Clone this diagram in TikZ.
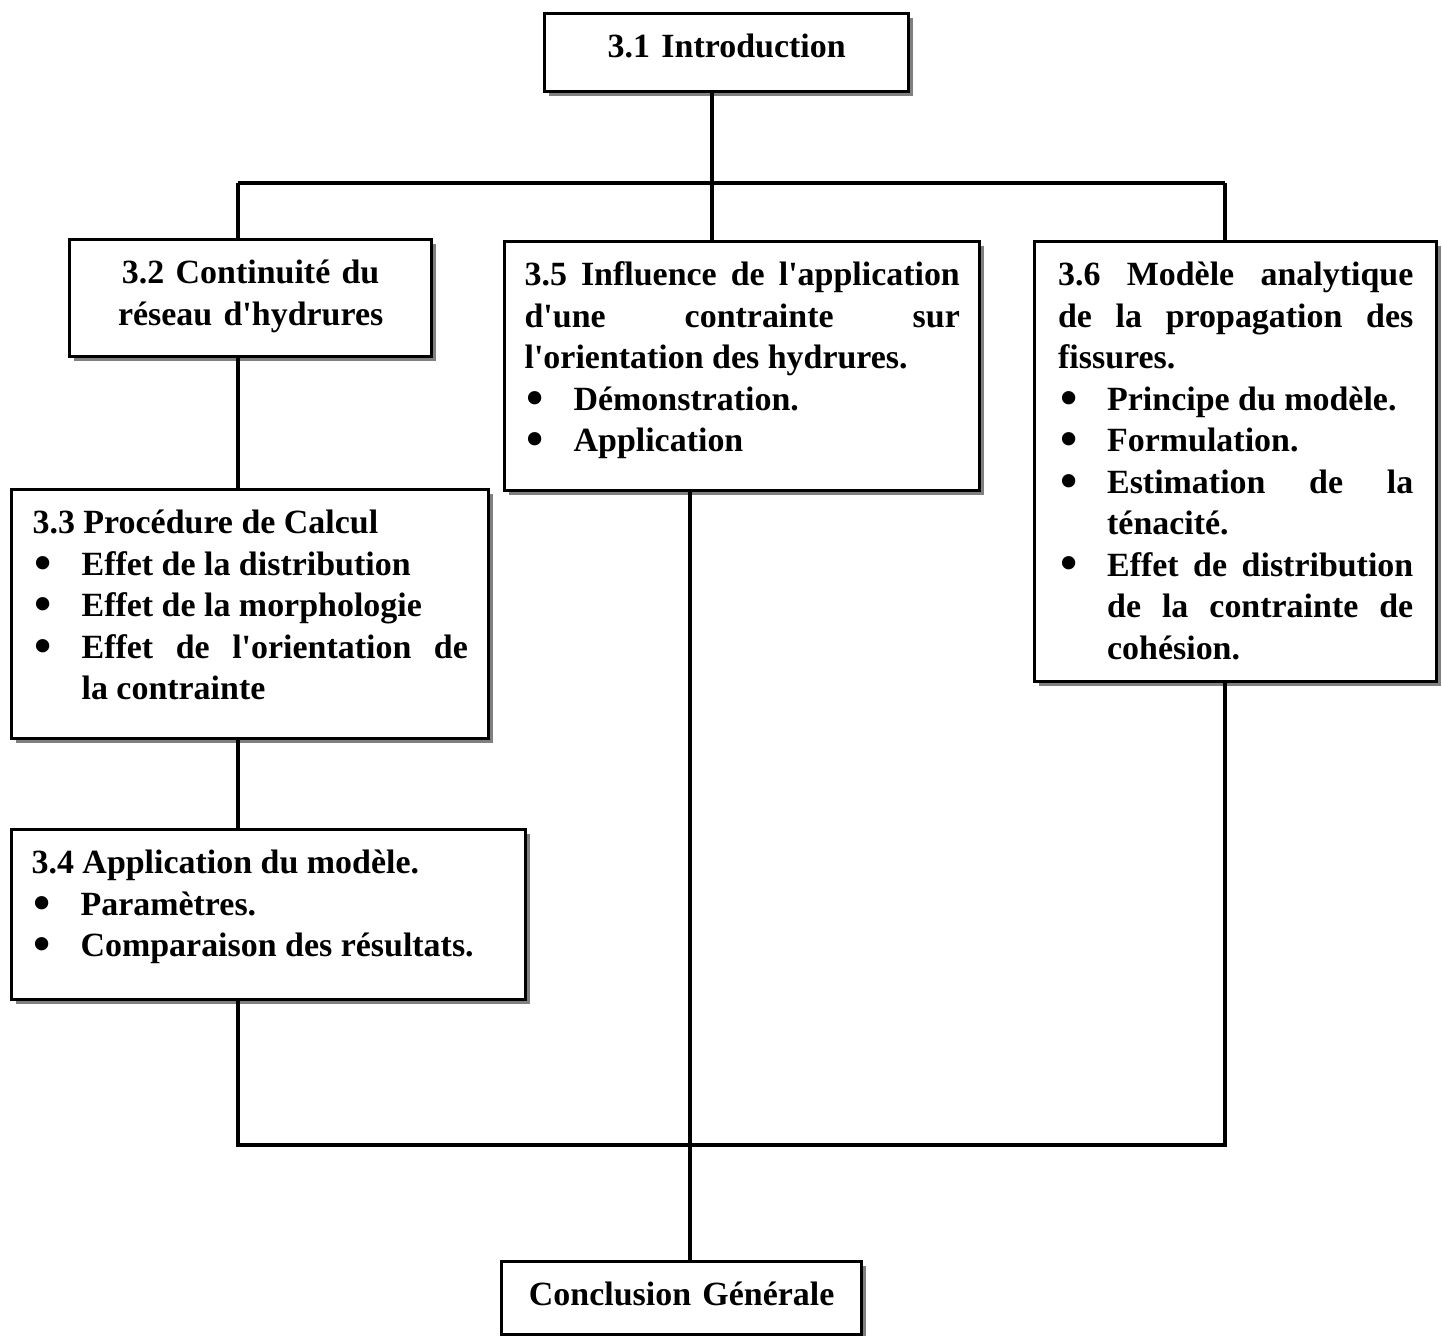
\documentclass[tikz,border=0pt]{standalone}
\usepackage{fontspec}
\usepackage{tikz}
\usetikzlibrary{shadows}

\newfontfamily\boxfont{Liberation Serif}
\newcommand{\boxfnt}{\boxfont\bfseries\fontsize{9.65pt}{11.8pt}\selectfont\hyphenpenalty=10000\hbadness=10000}
\newcommand{\itm}{\par\noindent\hangindent=.49cm\hangafter=1\relax\makebox[.49cm][l]{\hspace{.02cm}\raisebox{-.25ex}{\scalebox{1.45}{\textbullet}}}}

\tikzset{
    secbox/.style={draw, line width=.9pt, fill=white, anchor=north west, inner xsep=.2cm, inner ysep=0pt,
        text height=.44cm, align=justify, font=\boxfnt,
        drop shadow={shadow xshift=.04cm, shadow yshift=-.04cm, fill=black!50, opacity=1}},
    link/.style={line width=1.1pt}
}

\begin{document}
\begin{tikzpicture}[x=0.01cm, y=-0.01cm]
        \useasboundingbox (0, 0) rectangle (1443, 1335);

        \node[secbox, align=center, text width=3.24cm, text depth=.34cm] (intro) at (543, 12) {3.1 Introduction};
        \node[secbox, align=center, text width=3.22cm, text depth=.73cm] (sec32) at (68, 238) {3.2 Continuité du\\réseau d'hydrures};
        \node[secbox, text width=4.35cm, text depth=2.05cm] (sec35) at (503, 240) {3.5 Influence de l'application\linebreak d'une contrainte sur\linebreak l'orientation des hydrures.\itm Démonstration.\itm Application\par};
        \node[secbox, inner xsep=.235cm, text width=3.55cm, text depth=3.96cm] (sec36) at (1033, 240) {3.6 Modèle analytique\linebreak de la propagation des\linebreak fissures.\itm Principe du modèle.\itm Formulation.\itm Estimation de la\linebreak ténacité.\itm Effet de distribution\linebreak de la contrainte de\linebreak cohésion.\par};
        \node[secbox, inner xsep=.21cm, text width=4.35cm, text depth=2.05cm] (sec33) at (10, 488) {3.3 Procédure de Calcul\itm Effet de la distribution\itm Effet de la morphologie\itm Effet de l'orientation de\linebreak la contrainte\par};
        \node[secbox, text width=4.74cm, text depth=1.26cm] (sec34) at (10, 828) {3.4 Application du modèle.\itm Paramètres.\itm Comparaison des résultats.\par};
        \node[secbox, align=center, text width=3.2cm, text depth=.29cm] (concl) at (500, 1260) {Conclusion Générale};

        \coordinate (topbus) at (712, 183);
        \coordinate (busL) at (238, 183);
        \coordinate (busR) at (1225, 183);
        \coordinate (botL) at (238, 1145);
        \coordinate (botR) at (1225, 1145);
        \coordinate (cross) at (690, 1145);

        \draw[link] (intro.south -| topbus) -- (topbus);
        \draw[link] (busL) -- (busR);
        \draw[link] (busL) -- (busL |- sec32.north);
        \draw[link] (topbus) -- (topbus |- sec35.north);
        \draw[link] (busR) -- (busR |- sec36.north);
        \draw[link] (sec32.south -| busL) -- (sec33.north -| busL);
        \draw[link] (sec33.south -| busL) -- (sec34.north -| busL);
        \draw[link] (sec34.south -| botL) -- (botL) -- (botR) -- (sec36.south -| botR);
        \draw[link] (sec35.south -| cross) -- (concl.north -| cross);
    \end{tikzpicture}
\end{document}
